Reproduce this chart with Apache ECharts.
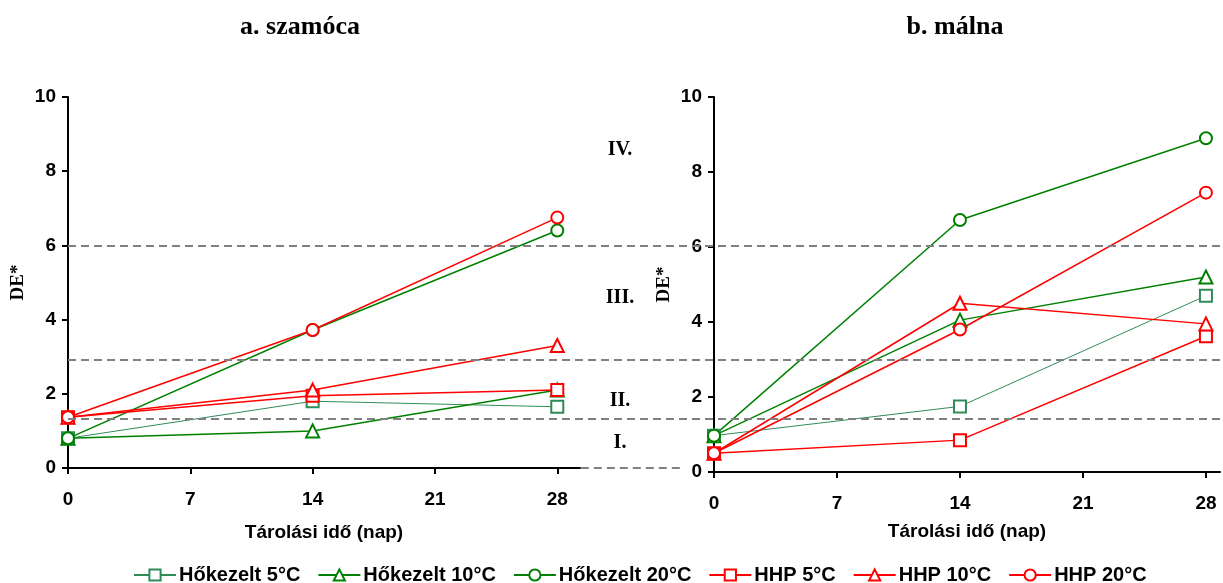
<!DOCTYPE html>
<html>
<head>
<meta charset="utf-8">
<script src="https://cdn.jsdelivr.net/npm/echarts@6/dist/echarts.min.js"></script>
<style>html,body{margin:0;padding:0;background:#fff}#c{width:1223px;height:583px}</style>
</head>
<body>
<div id="c"></div>
<script>
// storage days
const days = [0, 14, 28];
const xTicks = [0, 7, 14, 21, 28];
const seriesNames = ['Hőkezelt 5°C', 'Hőkezelt 10°C', 'Hőkezelt 20°C', 'HHP 5°C', 'HHP 10°C', 'HHP 20°C'];
// a. szamóca
const szamoca = [
  [0.8, 1.8, 1.65],
  [0.8, 1.0, 2.1],
  [0.8, 3.72, 6.4],
  [1.37, 1.95, 2.1],
  [1.37, 2.1, 3.3],
  [1.37, 3.72, 6.75],
];
// b. málna
const malna = [
  [0.97, 1.75, 4.7],
  [0.97, 4.05, 5.2],
  [0.97, 6.72, 8.9],
  [0.5, 0.85, 3.62],
  [0.5, 4.5, 3.95],
  [0.5, 3.8, 7.45],
];
const thresholds = [6, 2.93, 1.33];
const zones = ['IV.', 'III.', 'II.', 'I.'];
const zoneY = [150, 298, 401, 443];

const colors = ['#2e8b57', '#008000', '#008000', '#ff0000', '#ff0000', '#ff0000'];
const widths = [1, 1.5, 1.5, 1.5, 1.5, 1.5];
const symbols = ['emptyRect', 'emptyTriangle', 'emptyCircle', 'emptyRect', 'emptyTriangle', 'emptyCircle'];

const chart = echarts.init(document.getElementById('c'));
const lbl = { color: '#000', fontFamily: 'Liberation Sans, Arial', fontWeight: 'bold', fontSize: 19 };
const serif = 'Liberation Serif, Times New Roman';

function xAxisFor(grid, max, gap) {
  return {
    gridIndex: grid, type: 'value', min: 0, max: max,
    name: 'Tárolási idő (nap)', nameLocation: 'middle', nameGap: gap,
    nameTextStyle: Object.assign({}, lbl),
    axisLine: { lineStyle: { color: '#000', width: 2 } },
    axisTick: { customValues: xTicks, length: 6, lineStyle: { color: '#000', width: 2 } },
    axisLabel: Object.assign({ customValues: xTicks, margin: 22 }, lbl),
    splitLine: { show: false },
  };
}
function yAxisFor(grid) {
  return {
    gridIndex: grid, type: 'value', min: 0, max: 10, interval: 2,
    name: 'DE*', nameLocation: 'middle', nameGap: 40, nameRotate: 90,
    nameTextStyle: { color: '#000', fontFamily: serif, fontWeight: 'bold', fontSize: 19 },
    axisLine: { show: true, lineStyle: { color: '#000', width: 2 } },
    axisTick: { show: true, length: 6, lineStyle: { color: '#000', width: 2 } },
    axisLabel: Object.assign({ margin: 12 }, lbl),
    splitLine: { show: false },
  };
}
function makeSeries(data, grid) {
  return data.map((vals, i) => ({
    name: seriesNames[i], type: 'line', xAxisIndex: grid, yAxisIndex: grid,
    data: vals.map((v, j) => [days[j], v]),
    symbol: symbols[i], symbolSize: i % 3 === 1 ? 13 : 12,
    color: colors[i],
    lineStyle: { width: widths[i], color: colors[i] },
    itemStyle: { color: colors[i], borderWidth: 1 },
    z: 3,
  }));
}

const dashStyle = { color: '#808080', width: 2, type: [8, 5] };
const titleStyle = { fontFamily: serif, fontWeight: 'bold', fontSize: 26, color: '#000' };

chart.setOption({
  animation: false,
  title: [
    { text: 'a. szamóca', left: 295, top: 9, textAlign: 'center', textStyle: titleStyle },
    { text: 'b. málna', left: 950, top: 9, textAlign: 'center', textStyle: titleStyle },
  ],
  grid: [
    { left: 68, right: 643, top: 97, bottom: 115 },
    { left: 714, right: 3, top: 97, bottom: 111 },
    { left: 68, right: 0, top: 97, bottom: 115 },
  ],
  xAxis: [xAxisFor(0, 29.3, 55), xAxisFor(1, 28.8, 50),
    { gridIndex: 2, type: 'value', min: 0, max: 1, show: false }],
  yAxis: [yAxisFor(0), yAxisFor(1),
    { gridIndex: 2, type: 'value', min: 0, max: 10, show: false }],
  legend: {
    top: 560, left: 128, itemWidth: 42, itemHeight: 14, itemGap: 17,
    data: seriesNames,
    textStyle: { color: '#000', fontFamily: 'Liberation Sans, Arial', fontWeight: 'bold', fontSize: 20, padding: [0, 0, 0, -2] },
  },
  graphic: zones.map((z, i) => ({
    type: 'text', x: 620, y: zoneY[i],
    style: { text: z, fontFamily: serif, fontWeight: 'bold', fontSize: 20, fill: '#000', align: 'center', verticalAlign: 'middle' },
  })),
  series: [
    ...makeSeries(szamoca, 0),
    ...makeSeries(malna, 1),
    {
      type: 'line', xAxisIndex: 2, yAxisIndex: 2, data: [], silent: true, z: 1,
      markLine: {
        symbol: 'none', silent: true, label: { show: false }, lineStyle: dashStyle,
        data: [
          ...thresholds.map(t => ({ yAxis: t })),
          [{ coord: [0.444, 0] }, { coord: [0.532, 0] }],
        ],
      },
    },
  ],
});
</script>
</body>
</html>
